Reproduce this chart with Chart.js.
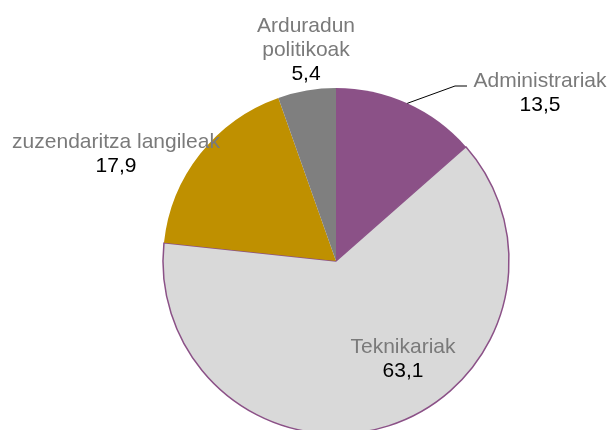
<!DOCTYPE html>
<html>
<head>
<meta charset="utf-8">
<script src="https://cdn.jsdelivr.net/npm/chart.js@4.4.0/dist/chart.umd.min.js"></script>
<style>
    html, body { margin: 0; padding: 0; background: #fff; overflow: hidden; }
    #wrap { position: relative; width: 611px; height: 522px; }
</style>
</head>
<body>
<div id="wrap"><canvas id="Pie__canvas_1"></canvas></div>
<script>
// data
var categories = ['Administrariak', 'Teknikariak', 'zuzendaritza langileak', 'Arduradun politikoak'];
var values = [13.5, 63.1, 17.9, 5.4];

// label look / placement (center x, first baseline)
var nameLines = [['Administrariak'], ['Teknikariak'], ['zuzendaritza langileak'], ['Arduradun', 'politikoak']];
var labelAt = [[540, 87], [403, 353], [116, 148], [306, 32]];
var leaderElbow = [455, 86];
var leaderEnd = [467, 86];
var sliceColors = ['#8B5187', '#D9D9D9', '#BF9000', '#7F7F7F'];

var sliceLabels = {
    id: 'sliceLabels',
    afterDatasetsDraw: function (chart) {
        var ctx = chart.ctx;
        var arcs = chart.getDatasetMeta(0).data;
        ctx.save();

        // leader line for Administrariak, starts on the slice edge
        var a = arcs[0];
        var mid = (a.startAngle + a.endAngle) / 2;
        ctx.beginPath();
        ctx.moveTo(a.x + Math.cos(mid) * a.outerRadius, a.y + Math.sin(mid) * a.outerRadius);
        ctx.lineTo(leaderElbow[0], leaderElbow[1]);
        ctx.lineTo(leaderEnd[0], leaderEnd[1]);
        ctx.strokeStyle = '#000';
        ctx.lineWidth = 1;
        ctx.stroke();

        ctx.font = '21px "Liberation Sans", Arial, sans-serif';
        ctx.textAlign = 'center';
        ctx.textBaseline = 'alphabetic';
        for (var i = 0; i < categories.length; i++) {
            var x = labelAt[i][0];
            var y = labelAt[i][1];
            var lines = nameLines[i];
            ctx.fillStyle = '#7A7A7A';
            for (var j = 0; j < lines.length; j++) {
                ctx.fillText(lines[j], x, y + j * 24);
            }
            ctx.fillStyle = '#000';
            ctx.fillText(values[i].toFixed(1).replace('.', ','), x, y + lines.length * 24);
        }
        ctx.restore();
    }
};

function Pie_status_1() {
    var ctr = document.getElementById('Pie__canvas_1');
    var pie = new Chart(ctr, {
        type: 'pie',
        data: {
            labels: categories,
            datasets: [{
                data: values,
                backgroundColor: sliceColors,
                borderColor: ['#8B5187', '#8B5187', '#BF9000', '#7F7F7F'],
                borderWidth: [0, 1.5, 0, 0],
                hoverOffset: 0
            }]
        },
        options: {
            responsive: true,
            maintainAspectRatio: false,
            animation: false,
            radius: 173,
            layout: {
                padding: { top: 87, bottom: 87, left: 162, right: 101 }
            },
            plugins: {
                legend: { display: false },
                tooltip: { enabled: false }
            }
        },
        plugins: [sliceLabels]
    });
}

Pie_status_1();
</script>
</body>
</html>
